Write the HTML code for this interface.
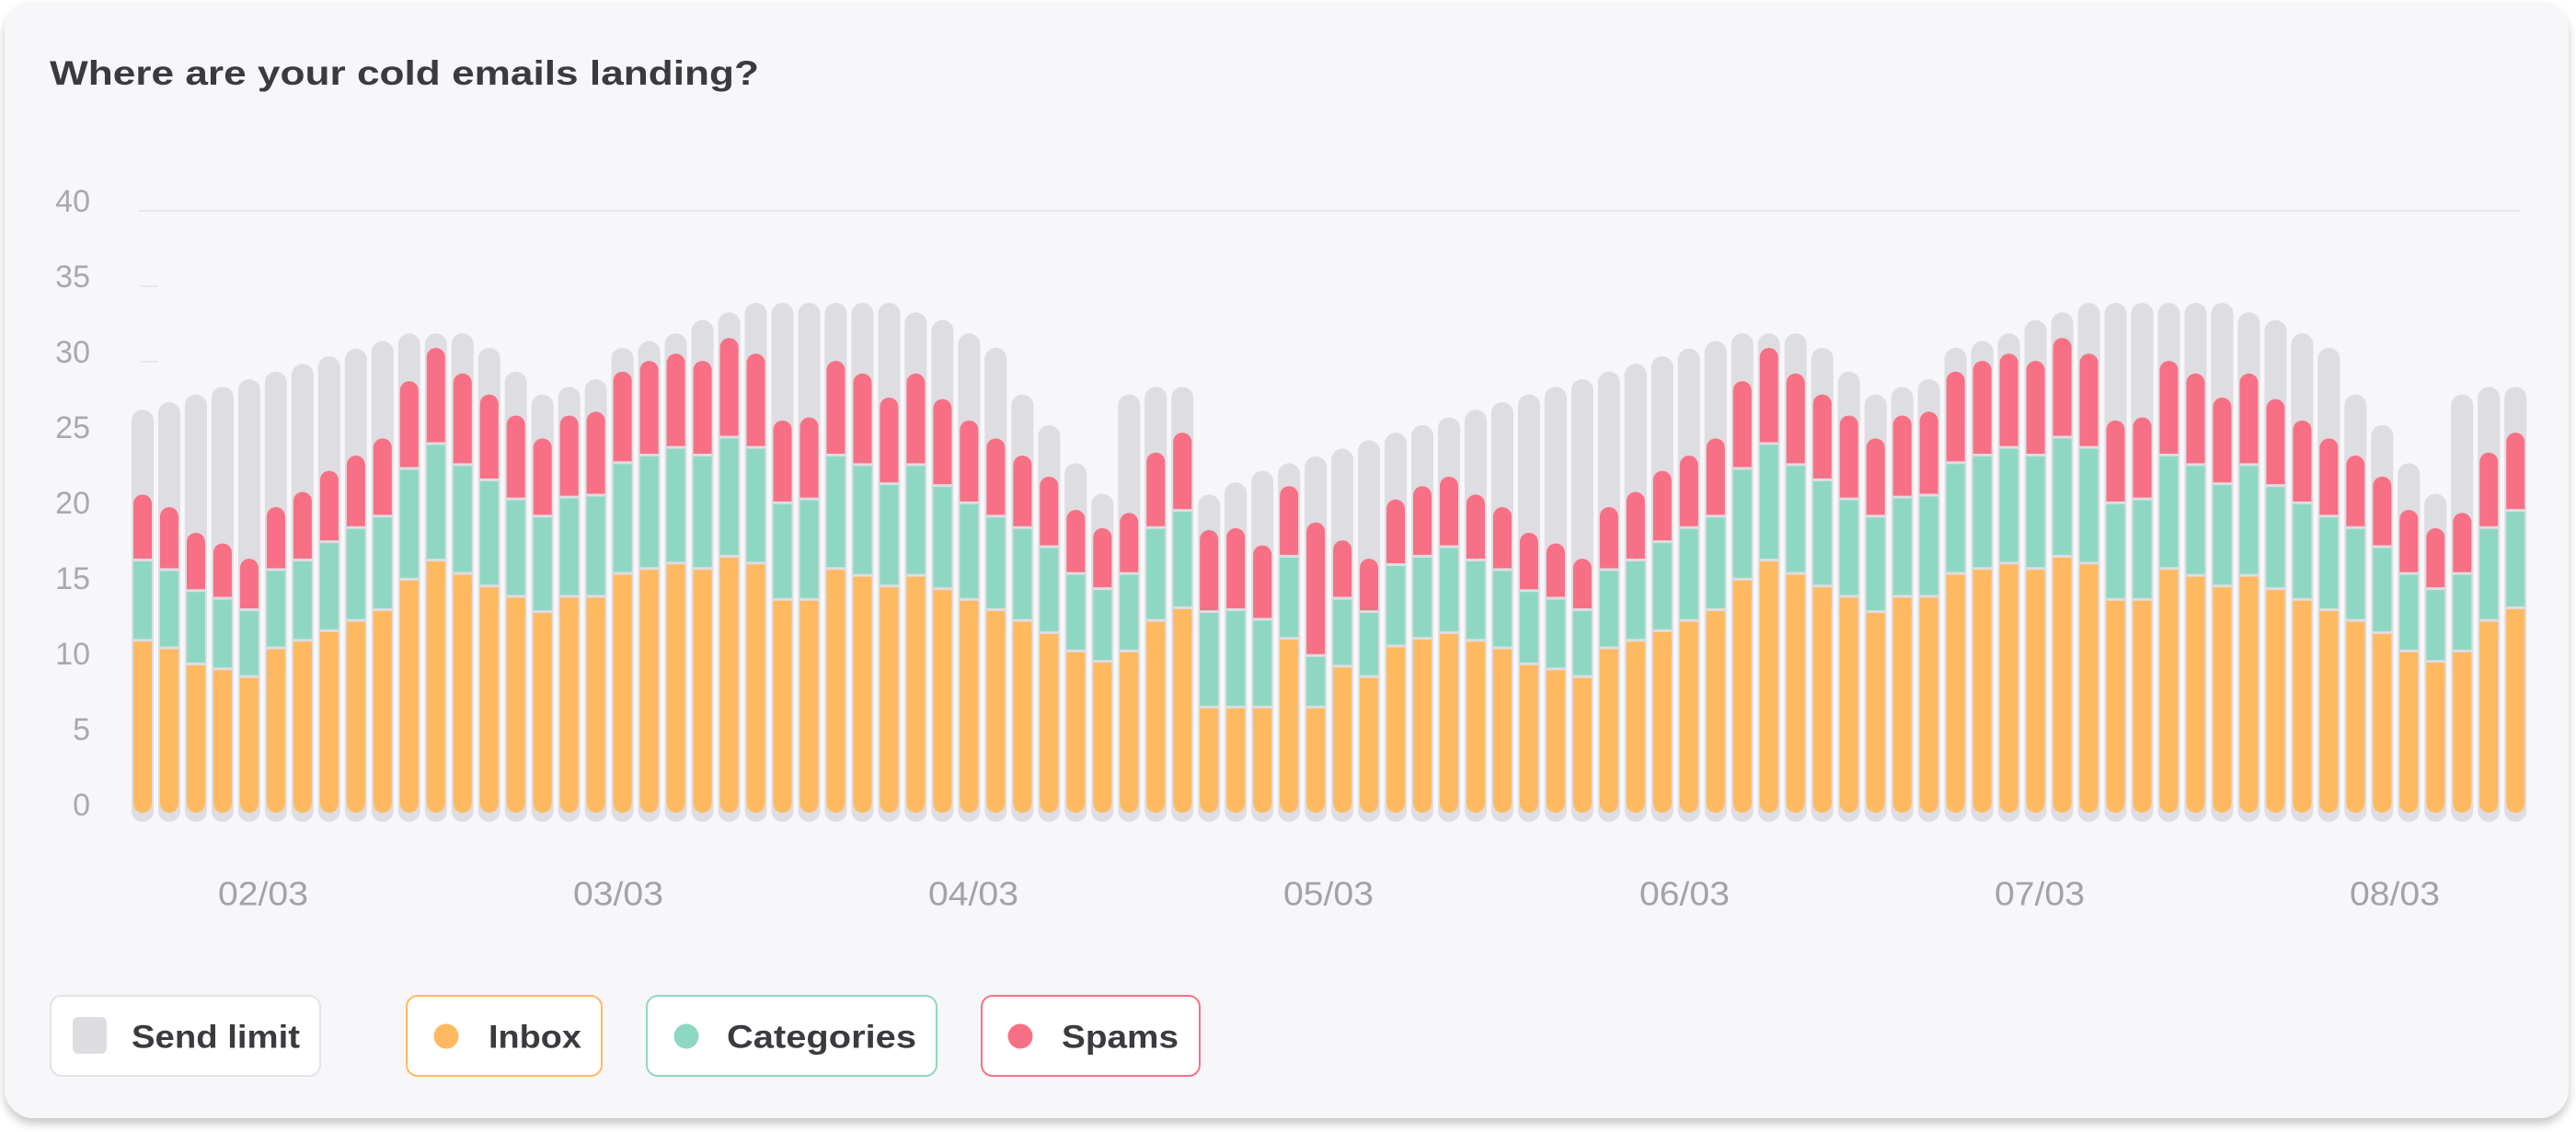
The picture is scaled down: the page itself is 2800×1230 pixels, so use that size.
<!DOCTYPE html>
<html><head><meta charset="utf-8"><style>
html,body{margin:0;padding:0;background:#fff;width:2800px;height:1230px;overflow:hidden}
svg{display:block}
</style></head><body>
<svg id="s" width="2800" height="1230" viewBox="0 0 2800 1230" xmlns="http://www.w3.org/2000/svg" font-family="Liberation Sans, sans-serif">
<defs><filter id="sh" x="-5%" y="-5%" width="110%" height="115%"><feDropShadow dx="0" dy="6" stdDeviation="5" flood-color="#000" flood-opacity="0.22"/></filter></defs>
<rect x="5" y="2" width="2787" height="1213" rx="32" fill="#f7f6f9" filter="url(#sh)"/>
<text x="54" y="92" font-size="37" font-weight="bold" fill="#3a3a3f" textLength="771" lengthAdjust="spacingAndGlyphs">Where are your cold emails landing?</text>
<g id="grid" stroke="#e8e7eb" stroke-width="2">
<line x1="150" x2="2740" y1="229" y2="229"/>
<line x1="153" x2="172" y1="311" y2="311"/>
<line x1="153" x2="172" y1="393" y2="393"/>
</g>
<g font-size="34" fill="#a9a8ae" text-anchor="end" dominant-baseline="central">
<text x="98" y="219">40</text><text x="98" y="301">35</text><text x="98" y="383">30</text><text x="98" y="465">25</text><text x="98" y="547">20</text><text x="98" y="629">15</text><text x="98" y="711">10</text><text x="98" y="793">5</text><text x="98" y="875">0</text>
</g>
<g id="bars"></g>
<g font-size="36" fill="#a3a2a9" text-anchor="middle" dominant-baseline="central">
<text x="286" y="971" textLength="98" lengthAdjust="spacingAndGlyphs">02/03</text>
<text x="672" y="971" textLength="98" lengthAdjust="spacingAndGlyphs">03/03</text>
<text x="1058" y="971" textLength="98" lengthAdjust="spacingAndGlyphs">04/03</text>
<text x="1444" y="971" textLength="98" lengthAdjust="spacingAndGlyphs">05/03</text>
<text x="1831" y="971" textLength="98" lengthAdjust="spacingAndGlyphs">06/03</text>
<text x="2217" y="971" textLength="98" lengthAdjust="spacingAndGlyphs">07/03</text>
<text x="2603" y="971" textLength="98" lengthAdjust="spacingAndGlyphs">08/03</text>
</g>
<g font-size="35" font-weight="bold" fill="#3a3a3f" dominant-baseline="central">
<rect x="55" y="1082" width="293" height="87" rx="12" fill="#fff" stroke="#e4e3e7" stroke-width="2"/>
<rect x="79" y="1105" width="37" height="40" rx="6" fill="#dddce0"/>
<text x="143" y="1127" textLength="183" lengthAdjust="spacingAndGlyphs">Send limit</text>
<rect x="442" y="1082" width="212" height="87" rx="12" fill="#fff" stroke="#ffb961" stroke-width="2"/>
<circle cx="485" cy="1126" r="13.5" fill="#ffb961"/>
<text x="531" y="1127" textLength="101" lengthAdjust="spacingAndGlyphs">Inbox</text>
<rect x="703" y="1082" width="315" height="87" rx="12" fill="#fff" stroke="#8ed8c3" stroke-width="2"/>
<circle cx="746" cy="1126" r="13.5" fill="#8ed8c3"/>
<text x="790" y="1127" textLength="206" lengthAdjust="spacingAndGlyphs">Categories</text>
<rect x="1067" y="1082" width="237" height="87" rx="12" fill="#fff" stroke="#f87085" stroke-width="2"/>
<circle cx="1109" cy="1126" r="13.5" fill="#f87085"/>
<text x="1154" y="1127" textLength="127" lengthAdjust="spacingAndGlyphs">Spams</text>
</g>
</svg>
<script>
(function(){
var d=[[350,572,740,950],[330,605,765,970],[310,672,820,1012],[290,700,840,1025],[270,740,870,1045],[250,605,765,970],[230,565,740,950],[210,510,692,925],[190,470,655,898],[170,425,625,870],[150,275,500,790],[150,188,435,740],[150,255,490,775],[188,310,530,808],[250,365,580,835],[310,425,625,875],[290,365,575,835],[270,355,570,835],[188,250,485,775],[170,222,465,762],[150,203,445,748],[115,222,465,762],[95,162,418,730],[70,203,445,748],[70,378,590,843],[70,370,580,843],[70,222,465,762],[70,255,490,780],[70,318,540,808],[95,255,490,780],[115,322,545,815],[150,378,590,843],[188,425,625,870],[310,470,655,898],[390,525,705,930],[490,612,775,978],[570,660,815,1005],[310,620,775,978],[290,462,655,898],[290,410,610,865],[572,665,875,1125],[540,660,870,1125],[510,705,895,1125],[490,550,730,945],[472,645,990,1125],[452,692,840,1018],[430,740,875,1045],[410,585,752,965],[390,550,730,945],[370,525,705,930]];
var all=d.concat(d.slice(0,40));
var NS="http://www.w3.org/2000/svg";
function el(parent,tag,attrs){var e=document.createElementNS(NS,tag);for(var k in attrs)e.setAttribute(k,attrs[k]);parent.appendChild(e);return e;}
var b=document.getElementById('bars');
function Y(z){return 300+z/2.41;}
function capPath(x,w,y0,y1){var r=w/2;return 'M'+(x-r)+' '+y1+' L'+(x-r)+' '+(y0+r)+' A'+r+' '+r+' 0 0 1 '+(x+r)+' '+(y0+r)+' L'+(x+r)+' '+y1+' Z';}
for(var i=0;i<all.length;i++){
 var x=155+i*28.98,v=all[i];
 var gy=Y(v[0]),ry=Y(v[1]),cy=Y(v[2]),iy=Y(v[3]);
 el(b,'rect',{x:x-12,y:gy,width:24,height:893-gy,rx:12,fill:'#dedde1'});
 el(b,'rect',{x:x-10,y:iy+3,width:20,height:883-iy-3,rx:10,fill:'#ffb961'});
 el(b,'rect',{x:x-10,y:iy+3,width:20,height:20,fill:'#ffb961'});
 el(b,'rect',{x:x-10,y:cy+3,width:20,height:iy-cy-3,fill:'#8ed8c3'});
 el(b,'path',{d:capPath(x,20,ry,cy),fill:'#f87085'});
}
})();
</script>
</body></html>
